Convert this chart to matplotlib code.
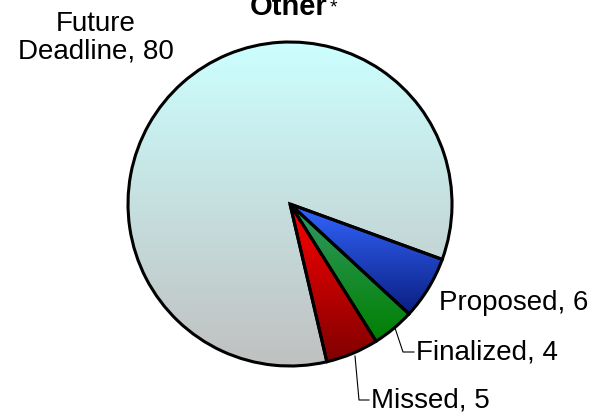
import numpy as np
import matplotlib
matplotlib.use("Agg")
import matplotlib.pyplot as plt
from matplotlib.colors import LinearSegmentedColormap

plt.rcParams['font.family'] = ['Liberation Sans', 'DejaVu Sans']

# Slice data (drawn clockwise starting at the right-hand side)
categories = ["Proposed", "Finalized", "Missed", "Future\nDeadline"]
values = [6, 4, 5, 80]
# top -> bottom gradient colours for each slice
grad_top = ["#3366FF", "#339966", "#FF0000", "#CCFFFF"]
grad_bottom = ["#0A1E80", "#008000", "#800000", "#C0C0C0"]

W, H = 599, 419
CX, CY, R = 290, 204, 162  # pie centre and radius in pixels


def px(x):
    return (x - CX) / R


def py(y):
    return (CY - y) / R


fig = plt.figure(figsize=(W / 100, H / 100), dpi=100)
ax = fig.add_axes([0, 0, 1, 1])
ax.axis("off")

wedges, _ = ax.pie(values, startangle=-20, counterclock=False, radius=1,
                   center=(0, 0),
                   wedgeprops=dict(facecolor="none", edgecolor="black",
                                   linewidth=2.2, zorder=3))

# Vertical gradient fill for each slice, clipped to the slice outline
grad = np.linspace(0, 1, 256).reshape(-1, 1)
for w, c0, c1 in zip(wedges, grad_top, grad_bottom):
    bb = w.get_path().get_extents()
    cmap = LinearSegmentedColormap.from_list("g", [c0, c1])
    im = ax.imshow(grad, cmap=cmap, aspect="auto", origin="upper",
                   extent=[bb.x0, bb.x1, bb.y0, bb.y1], zorder=1,
                   interpolation="bilinear")
    im.set_clip_path(w)

ax.set_xlim(px(0), px(W))
ax.set_ylim(py(H), py(0))

fs = 20
# Labels
ax.text(px(96), py(38), f"{categories[3]}, {values[3]}", ha="center",
        va="center", fontsize=fs, linespacing=1.1)
ax.text(px(439), py(303), f"{categories[0]}, {values[0]}", ha="left",
        va="center", fontsize=fs)
ax.text(px(416), py(352), f"{categories[1]}, {values[1]}", ha="left",
        va="center", fontsize=fs)
ax.text(px(371), py(400), f"{categories[2]}, {values[2]}", ha="left",
        va="center", fontsize=fs)

# Leader lines
ax.plot([px(395), px(403), px(414)], [py(328), py(352), py(352)],
        color="black", lw=0.8, zorder=4)
ax.plot([px(355), px(359), px(369)], [py(356), py(400), py(400)],
        color="black", lw=0.8, zorder=4)

# Title (partly above the top edge)
ax.text(px(289), py(15), "Other", ha="center", va="baseline",
        fontsize=21, fontweight="bold")
ax.text(px(330), py(12), "*", ha="left", va="baseline", fontsize=14)

fig.savefig("out.png", dpi=100)
